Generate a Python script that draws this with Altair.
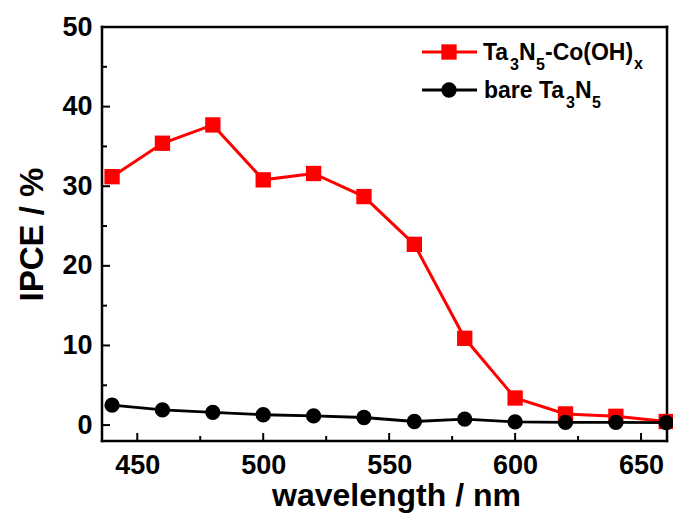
import altair as alt
import pandas as pd

wavelength = [440, 460, 480, 500, 520, 540, 560, 580, 600, 620, 640, 660]
ipce_co = [31.2, 35.4, 37.7, 30.8, 31.6, 28.7, 22.7, 10.9, 3.4, 1.4, 1.1, 0.45]
ipce_bare = [2.5, 1.9, 1.6, 1.3, 1.15, 0.95, 0.45, 0.75, 0.4, 0.33, 0.33, 0.3]

x_major = [450, 500, 550, 600, 650]
x_minor = [475, 525, 575, 625]
y_major = [0, 10, 20, 30, 40, 50]
y_minor = [5, 15, 25, 35, 45]

W, H = 565, 414
FONT = "Liberation Sans"

df = pd.DataFrame({"wl": wavelength, "co": ipce_co, "bare": ipce_bare})

xscale = alt.Scale(domain=[436, 660.3], nice=False, zero=False)
yscale = alt.Scale(domain=[-2, 50], nice=False, zero=False)

xaxis = alt.Axis(values=x_major, title="wavelength / nm", labelFont=FONT, labelFontSize=27,
                 labelFontWeight="bold", labelColor="black", labelPadding=11,
                 titleFont=FONT, titleFontSize=32, titleFontWeight="bold", titleColor="black",
                 titlePadding=2, titleX=294, ticks=False, domain=False, grid=False, labelFlush=False)
yaxis = alt.Axis(values=y_major, title="IPCE / %", labelFont=FONT, labelFontSize=27,
                 labelFontWeight="bold", labelColor="black", labelPadding=10,
                 titleFont=FONT, titleFontSize=33, titleFontWeight="bold", titleColor="black",
                 titlePadding=12, ticks=False, domain=False, grid=False, labelFlush=False)

base = alt.Chart(df)
one = alt.Data(values=[{"k": 1}])

def frame_rule(x1, x2, y1, y2):
    return alt.Chart(one).mark_rule(color="black", strokeWidth=2.5, strokeCap="square").encode(
        x=alt.value(x1), x2=alt.value(x2), y=alt.value(y1), y2=alt.value(y2))

frame = [frame_rule(0, W, 0, 0), frame_rule(0, W, H, H), frame_rule(0, 0, 0, H), frame_rule(W, W, 0, H)]

red_line = base.mark_line(color="#ff0000", strokeWidth=3).encode(
    x=alt.X("wl:Q", scale=xscale, axis=xaxis), y=alt.Y("co:Q", scale=yscale, axis=yaxis))
red_pts = base.mark_point(shape="square", filled=True, color="#ff0000", size=235, opacity=1).encode(
    x=alt.X("wl:Q", scale=xscale), y=alt.Y("co:Q", scale=yscale))
blk_line = base.mark_line(color="black", strokeWidth=2.8).encode(
    x=alt.X("wl:Q", scale=xscale), y=alt.Y("bare:Q", scale=yscale))
blk_pts = base.mark_point(shape="circle", filled=True, color="black", size=235, opacity=1).encode(
    x=alt.X("wl:Q", scale=xscale), y=alt.Y("bare:Q", scale=yscale))

def yticks(vals, length):
    d = pd.DataFrame({"v": vals})
    return alt.Chart(d).mark_rule(color="black", strokeWidth=2).encode(
        y=alt.Y("v:Q", scale=yscale), x=alt.value(0), x2=alt.value(length))

def xticks(vals, length):
    d = pd.DataFrame({"v": vals})
    return alt.Chart(d).mark_rule(color="black", strokeWidth=2).encode(
        x=alt.X("v:Q", scale=xscale), y=alt.value(H), y2=alt.value(H - length))

ticks = [yticks(y_major, 8), yticks(y_minor, 5), xticks(x_major, 8), xticks(x_minor, 5)]

def legend_line(color, y, width):
    return alt.Chart(one).mark_rule(color=color, strokeWidth=width).encode(
        x=alt.value(320), x2=alt.value(375), y=alt.value(y))

def legend_sym(shape, color, y, size):
    return alt.Chart(one).mark_point(shape=shape, filled=True, color=color, size=size, opacity=1).encode(
        x=alt.value(347), y=alt.value(y))

def txt(s, x, y, size):
    return alt.Chart(one).mark_text(text=s, font=FONT, fontWeight="bold", fontSize=size,
                                    align="left", baseline="alphabetic", color="black").encode(
        x=alt.value(x), y=alt.value(y))

legend = [
    legend_line("#ff0000", 25, 3), legend_sym("square", "#ff0000", 25, 235),
    legend_line("black", 63, 2.8), legend_sym("circle", "black", 63, 235),
    txt("Ta", 381, 33, 23), txt("3", 408, 43, 16), txt("N", 417, 33, 23), txt("5", 434, 43, 16),
    txt("-Co(OH)", 443, 33, 23), txt("x", 532, 42, 16),
    txt("bare Ta", 382, 71, 23), txt("3", 464, 81, 16), txt("N", 473, 71, 23), txt("5", 490, 81, 16),
]

chart = alt.layer(*frame, red_line, red_pts, blk_line, blk_pts, *ticks, *legend).properties(
    width=W, height=H,
    background="white",
    autosize=alt.AutoSizeParams(type="none"),
    padding={"left": 102, "top": 27, "right": 6, "bottom": 78},
).configure_view(strokeWidth=0)

chart.save("out.html", embed_options={"renderer": "svg", "actions": False})
